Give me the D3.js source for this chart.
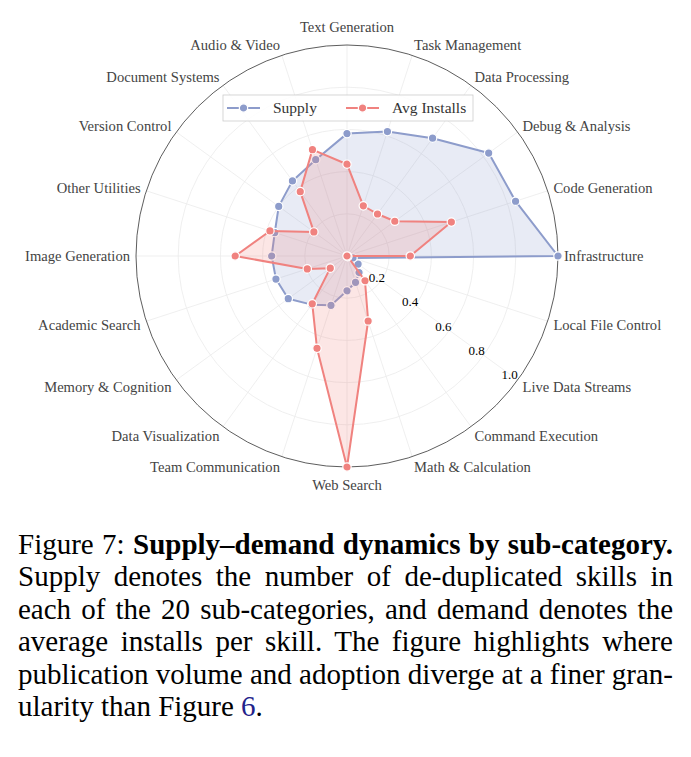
<!DOCTYPE html>
<html>
<head>
<meta charset="utf-8">
<script src="https://cdn.jsdelivr.net/npm/d3@7"></script>
<style>
  body { margin: 0; background: #fff; width: 691px; height: 757px; position: relative; overflow: hidden; }
  #chart { position: absolute; left: 0; top: 0; }
  #caption { position: absolute; left: 18px; top: 528px; width: 655px;
             font-family: "Liberation Serif", "Times New Roman", serif; font-size: 29px;
             line-height: 32.4px; color: #000; }
  #caption div { text-align: justify; text-align-last: justify; white-space: nowrap; }
  #caption div.last { text-align-last: left; }
  #caption .ref { color: #22228a; }
</style>
</head>
<body>
<div id="chart"></div>
<div id="caption">
  <div>Figure 7: <b>Supply–demand dynamics by sub-category.</b></div>
  <div>Supply denotes the number of de-duplicated skills in</div>
  <div>each of the 20 sub-categories, and demand denotes the</div>
  <div>average installs per skill. The figure highlights where</div>
  <div>publication volume and adoption diverge at a finer gran-</div>
  <div class="last">ularity than Figure <span class="ref">6</span>.</div>
</div>
<script>
// sub-categories, counter-clockwise from the right
var categories = ["Infrastructure", "Code Generation", "Debug & Analysis", "Data Processing",
  "Task Management", "Text Generation", "Audio & Video", "Document Systems", "Version Control",
  "Other Utilities", "Image Generation", "Academic Search", "Memory & Cognition",
  "Data Visualization", "Team Communication", "Web Search", "Math & Calculation",
  "Command Execution", "Live Data Streams", "Local File Control"];

// normalised values
var supply = [1.0, 0.84, 0.83, 0.69, 0.62, 0.58, 0.48, 0.44, 0.40, 0.36,
  0.357, 0.354, 0.344, 0.285, 0.246, 0.165, 0.131, 0.097, 0.065, 0.03];
var avgInstalls = [0.30, 0.52, 0.28, 0.246, 0.25, 0.435, 0.53, 0.377, 0.194, 0.384,
  0.53, 0.198, 0.098, 0.28, 0.46, 1.0, 0.324, 0.145, 0.005, 0.0];

var rTicks = [0.2, 0.4, 0.6, 0.8, 1.0];
var rTickLabels = ["0.2", "0.4", "0.6", "0.8", "1.0"];

var width = 691, height = 520;
var cx = 347, cy = 256, R = 211;
var blue = "#8d9ccb", red = "#f0827f";
var serif = "'Liberation Serif', 'Times New Roman', serif";

var svg = d3.select("#chart")
  .append("svg")
    .attr("width", width)
    .attr("height", height);

var g = svg.append("g")
    .attr("transform", "translate(" + cx + "," + cy + ")");

var r = d3.scaleLinear().domain([0, 1]).range([0, R]);
var step = 2 * Math.PI / categories.length;
// theta counter-clockwise from east; d3 radial angle is clockwise from north
var theta = i => i * step;
var px = (v, i) => r(v) * Math.cos(theta(i));
var py = (v, i) => -r(v) * Math.sin(theta(i));

// grid circles
g.selectAll(".ring")
  .data(rTicks.slice(0, -1))
  .enter()
  .append("circle")
    .attr("r", d => r(d))
    .attr("fill", "none")
    .attr("stroke", "#ebebeb")
    .attr("stroke-width", 0.8);

// spokes
g.selectAll(".spoke")
  .data(categories)
  .enter()
  .append("line")
    .attr("x1", 0).attr("y1", 0)
    .attr("x2", (d, i) => px(1, i))
    .attr("y2", (d, i) => py(1, i))
    .attr("stroke", "#ebebeb")
    .attr("stroke-width", 0.8);

// outer frame
g.append("circle")
    .attr("r", r(1))
    .attr("fill", "none")
    .attr("stroke", "#333")
    .attr("stroke-width", 0.8);

var radial = d3.lineRadial()
    .angle((d, i) => Math.PI / 2 - theta(i))
    .radius(d => r(d))
    .curve(d3.curveLinearClosed);

function drawSeries(values, color) {
  g.append("path")
      .datum(values)
      .attr("d", radial)
      .attr("fill", color)
      .attr("fill-opacity", 0.2)
      .attr("stroke", "none");
  g.append("path")
      .datum(values)
      .attr("d", radial)
      .attr("fill", "none")
      .attr("stroke", color)
      .attr("stroke-width", 2)
      .attr("stroke-linejoin", "round");
  g.append("g")
    .selectAll("circle")
    .data(values)
    .enter()
    .append("circle")
      .attr("cx", (d, i) => px(d, i))
      .attr("cy", (d, i) => py(d, i))
      .attr("r", 4.2)
      .attr("fill", color)
      .attr("stroke", "#fff")
      .attr("stroke-width", 1.2);
}

drawSeries(supply, blue);
drawSeries(avgInstalls, red);

// category labels
g.selectAll(".cat")
  .data(categories)
  .enter()
  .append("text")
    .attr("x", (d, i) => {
      var c = Math.cos(theta(i));
      return Math.abs(c) < 0.01 ? 0 : 217 * c;
    })
    .attr("y", (d, i) => {
      var s = Math.sin(theta(i));
      return Math.abs(s) > 0.99 ? -229 * s : -222 * s;
    })
    .attr("dy", "0.35em")
    .attr("text-anchor", (d, i) => {
      var c = Math.cos(theta(i));
      return c > 0.01 ? "start" : (c < -0.01 ? "end" : "middle");
    })
    .style("font-family", serif)
    .style("font-size", "14.6px")
    .style("fill", "#444")
    .text(d => d);

// radial tick labels
var labAngle = -36 * Math.PI / 180;
g.selectAll(".rtick")
  .data(rTicks)
  .enter()
  .append("text")
    .attr("x", d => (r(d) * 0.972 - 4) * Math.cos(labAngle))
    .attr("y", d => -(r(d) * 0.972 - 4) * Math.sin(labAngle))
    .attr("dy", "0.35em")
    .attr("text-anchor", "middle")
    .style("font-family", serif)
    .style("font-size", "13px")
    .style("fill", "#000")
    .text((d, i) => rTickLabels[i]);

// legend
var legend = svg.append("g").attr("transform", "translate(223,95)");
legend.append("rect")
    .attr("width", 250).attr("height", 26)
    .attr("fill", "#fff").attr("fill-opacity", 0.85)
    .attr("stroke", "#ccc").attr("stroke-width", 0.8);

var legendItems = [{name: "Supply", color: blue, x: 4}, {name: "Avg Installs", color: red, x: 123}];
var li = legend.selectAll(".li")
  .data(legendItems)
  .enter()
  .append("g")
    .attr("transform", d => "translate(" + d.x + ",13)");
li.append("line")
    .attr("x1", 0).attr("x2", 33)
    .attr("stroke", d => d.color).attr("stroke-width", 2);
li.append("circle")
    .attr("cx", 16.5).attr("r", 4.2)
    .attr("fill", d => d.color)
    .attr("stroke", "#fff").attr("stroke-width", 1.2);
li.append("text")
    .attr("x", 46)
    .attr("dy", "0.35em")
    .style("font-family", serif)
    .style("font-size", "15.5px")
    .style("fill", "#333")
    .text(d => d.name);
</script>
</body>
</html>
